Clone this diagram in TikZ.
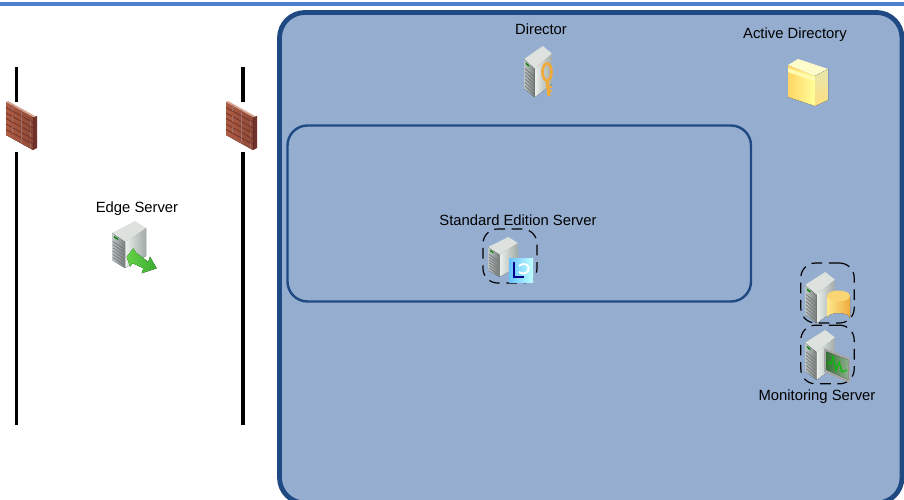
\documentclass[tikz,border=0pt]{standalone}
\usepackage{fontspec}
\setmainfont{Liberation Sans}
\usepackage{tikz}

\definecolor{topbar}{RGB}{79,129,207}
\definecolor{zonefill}{RGB}{149,174,208}
\definecolor{zoneline}{RGB}{31,73,130}
\definecolor{srvlight}{RGB}{236,240,236}
\definecolor{srvgrey}{RGB}{160,170,166}
\definecolor{srvdark}{RGB}{190,198,200}
\definecolor{brickred}{RGB}{176,92,68}
\definecolor{brickdark}{RGB}{112,50,42}
\definecolor{mortar}{RGB}{216,164,144}
\definecolor{arrowgreen}{RGB}{100,210,70}
\definecolor{arrowdeep}{RGB}{60,170,50}
\definecolor{keyorange}{RGB}{240,170,60}
\definecolor{dbyellow}{RGB}{255,232,140}
\definecolor{dborange}{RGB}{238,170,60}

\tikzset{
	lbl/.style={font=\fontsize{11.1pt}{13pt}\selectfont,text=black,inner sep=0pt},
	wallline/.style={line width=2.6pt,black},
	dashbox/.style={draw=black,dash pattern=on 8pt off 5pt,line width=0.9pt,rounded corners=11pt,inner sep=0pt},
	server/.pic={
		\fill[left color=srvlight,right color=srvgrey] (13,21) -- (34,7) -- (34,35) -- (13,47) -- cycle;
		\fill[srvlight!80!srvgrey] (0,12) -- (23,0) -- (34,7) -- (13,21) -- cycle;
		\fill[left color=srvdark,right color=srvgrey!75!black] (0,12) -- (13,21) -- (13,47) -- (0,39) -- cycle;
		\foreach \r in {0,...,5}
			\draw[black!55,line width=0.5pt] (1,20.5+\r*3.2) -- (12,28+\r*3.2);
		\fill[green!50!black] (2,15) -- (6,17.5) -- (6,19) -- (2,16.5) -- cycle;
	},
	firewall/.pic={
		\fill[brickdark] (27,15) -- (31,14) -- (31,46) -- (27,48) -- cycle;
		\fill[left color=brickred,right color=brickred!80!black] (0,0) -- (27,15) -- (27,48) -- (0,33) -- cycle;
		\fill[mortar] (0,0) -- (2,-1) -- (29,14) -- (27,15) -- cycle;
		\begin{scope}[yslant=0.55]
			\foreach \r in {1,...,5}
				\draw[brickdark,line width=0.6pt] (0,\r*5.5) -- (27,\r*5.5);
			\foreach \r/\s in {0/6,1/15,2/6,3/15,4/6,5/15}
				\draw[brickdark!70,line width=0.5pt] (\s,\r*5.5) -- (\s,\r*5.5+5.5) (\s+9,\r*5.5) -- (\s+9,\r*5.5+5.5);
		\end{scope}
	}
}

\begin{document}
\begin{tikzpicture}[x=0.75pt,y=0.75pt,yscale=-1]
	\useasboundingbox (0,0) rectangle (904,500);
	\clip (0,0) rectangle (904,500);
	
	\fill [topbar] (0,2) rectangle (904,6);
	
	% zones
	\draw [zoneline,line width=3.6pt,fill=zonefill,rounded corners=19pt] (279.5,12.5) rectangle (902,503);
	\draw [zoneline,line width=1.8pt,rounded corners=15pt] (287.5,125.5) rectangle (751,301.5);
	
	% firewall lines
	\node (wallA) [minimum width=20pt,minimum height=37.5pt,inner sep=0pt] at (16.5,127) {};
	\node (wallB) [minimum width=20pt,minimum height=37.5pt,inner sep=0pt] at (243,127) {};
	\coordinate (wallAtop) at (16.5,67);
	\coordinate (wallAend) at (16.5,425);
	\coordinate (wallBtop) at (243,67);
	\coordinate (wallBend) at (243,425);
	\draw [wallline] (wallAtop) -- (wallA.north);
	\draw [wallline] (wallA.south) -- (wallAend);
	\draw [wallline] (wallBtop) -- (wallB.north);
	\draw [wallline] (wallB.south) -- (wallBend);
	\pic [yscale=-1] at (6,102) {firewall};
	\pic [yscale=-1] at (226,102) {firewall};
	
	% dashed groups
	\node (stdGroup) [dashbox,minimum width=40.5pt,minimum height=40.5pt] at (510,256) {};
	\node (dbGroup) [dashbox,minimum width=40pt,minimum height=45pt] at (827.5,293) {};
	\node (monGroup) [dashbox,minimum width=40pt,minimum height=44pt] at (827.5,354.5) {};
	
	% edge server
	\pic [yscale=-1] at (112,221) {server};
	\fill [left color=arrowgreen,right color=arrowdeep] (126.7,256.7) -- (133.3,248.3) -- (136.7,253.3) -- (148.3,261.7) -- (150,256.7) -- (156.7,268.3) -- (141.7,273.3) -- (143.3,268.3) -- (132.7,263.3) -- (130,266.7) -- cycle;
	
	% director
	\pic [xscale=0.82,yscale=-1.09] at (524,46) {server};
	\draw [keyorange,line width=2pt] (547,72) ellipse [x radius=4.5,y radius=8.5];
	\draw [keyorange,line width=2.4pt] (547,80) -- (549,96);
	\draw [keyorange,line width=1.2pt] (549,87) -- (552,87) (549,91) -- (552,91);
	
	% active directory
	\fill [left color=yellow!45!orange!60,right color=yellow!40!white] (788,65) -- (815,76) -- (815,106) -- (788,97) -- cycle;
	\fill [yellow!20!white] (788,65) -- (798,59) -- (828,69) -- (815,76) -- cycle;
	\fill [white!70!yellow] (788,68) -- (815,78) -- (815,81) -- (788,72) -- cycle;
	\fill [top color=yellow!25!white!90!black,bottom color=yellow!50!orange!50] (815,76) -- (828,69) -- (828,100) -- (815,106) -- cycle;
	
	% standard edition
	\pic [xscale=0.88,yscale=-0.85] at (488,237) {server};
	\fill [left color=cyan!60!blue!60!white,right color=cyan!25!white] (509,258) rectangle (533,282);
	\draw [blue!55!black,line width=2.2pt] (514,262) -- (514,277) -- (524,277);
	\draw [white,line width=1.4pt] (519,266) .. controls (525,261) and (531,266) .. (528,271) .. controls (526,274) and (522,274) .. (519,272);
	
	% database
	\pic [xscale=0.88,yscale=-1.09] at (805,272) {server};
	\fill [left color=dbyellow,right color=dborange] (827,296) -- (827,318) arc [start angle=180,end angle=0,x radius=11.5,y radius=-5] -- (850,296) -- cycle;
	\fill [dbyellow!70!dborange] (838.5,296) ellipse [x radius=11.5,y radius=5.5];
	
	% monitoring
	\pic [xscale=0.88,yscale=-1.06] at (805,330) {server};
	\fill [black!35] (824,348) -- (850,358) -- (850,383) -- (824,372) -- cycle;
	\fill [left color=green!30!black!80,right color=green!30!black!45] (826,351.5) -- (848,360) -- (848,379.5) -- (826,369.5) -- cycle;
	\draw [green!75!black,line width=0.8pt] (827,362) -- (831,364) -- (833,357) -- (836,370) -- (839,362) -- (842,372) -- (847,370);
	
	% labels
	\node (edgeLbl) [lbl] at (137,209) {Edge Server};
	\node (dirLbl) [lbl] at (541,29) {Director};
	\node (adLbl) [lbl] at (795,34.5) {Active Directory};
	\node (stdLbl) [lbl] at (518,220) {Standard Edition Server};
	\node (monLbl) [lbl] at (817,396.5) {Monitoring Server};
\end{tikzpicture}
\end{document}
